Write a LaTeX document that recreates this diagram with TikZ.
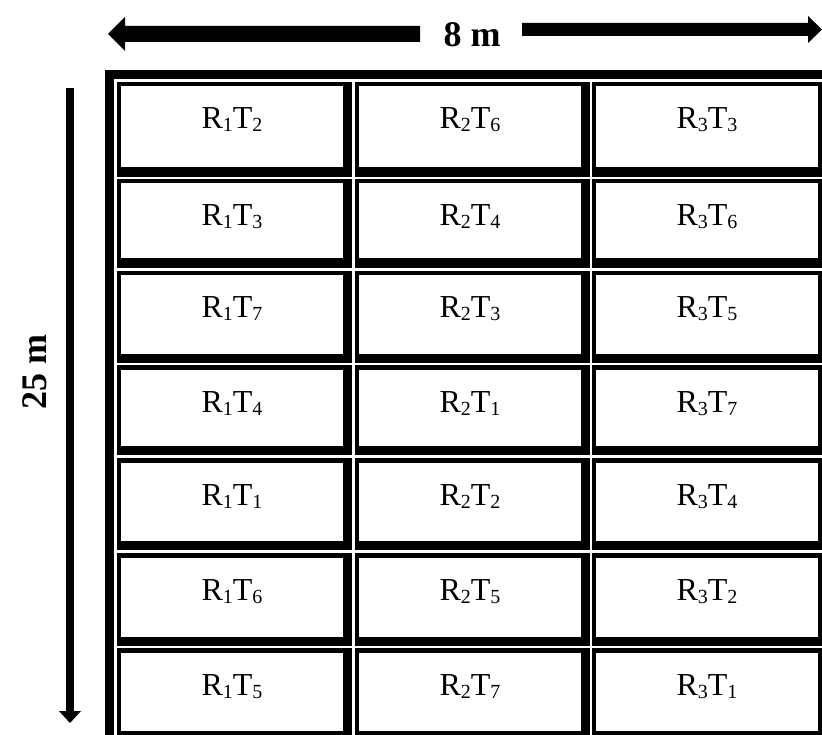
\documentclass[tikz,border=0pt]{standalone}
\usepackage{fontspec}
\setmainfont{Liberation Serif}
% treatment label: R_i T_j with lowered small digits
\newcommand\lowsub[1]{\raisebox{-3pt}{\fontsize{20}{20}\selectfont #1}}
\newcommand\lbl[2]{R\lowsub{#1}T\lowsub{#2}}
\begin{document}
\begin{tikzpicture}[x=1pt,y=-1pt,
  cellfont/.style={font=\fontsize{32}{32}\selectfont, inner sep=0pt, anchor=base},
  dimfont/.style={font=\fontsize{36}{36}\selectfont\bfseries, inner sep=0pt}]
\useasboundingbox (0,0) rectangle (822,735);
\begin{scope}
\clip (0,0) rectangle (822,735);
% outer frame (left and top bands)
\fill (105,70) rectangle (840,79);
\fill (105,70) rectangle (114,760);
% plot boxes: thin top/left edge, heavy right/bottom edge
\foreach \ya/\yb in {82/177, 179/268, 271/363, 365/455, 458/550, 553/646, 648/740}
  \foreach \x in {117,355,592} {
    \fill (\x,\ya) rectangle (\x+235,\yb);
    \fill[white] (\x+4,\ya+4.5) rectangle (\x+226,\yb-9.5);
  }
% plot labels
\foreach \ya/\a/\b/\c [count=\i] in {82/2/6/3, 179/3/4/6, 271/7/3/5, 365/4/1/7, 458/1/2/4, 553/6/5/2, 648/5/7/1} {
  \node[cellfont] (p\i-1) at (232,\ya+47) {\lbl{1}{\a}};
  \node[cellfont] (p\i-2) at (470,\ya+47) {\lbl{2}{\b}};
  \node[cellfont] (p\i-3) at (707,\ya+47) {\lbl{3}{\c}};
}
\end{scope}
% width dimension
\node[dimfont] (width) at (472,35) {8 m};
\fill (108,34) -- (125,17) -- (125,26) -- (420,26) -- (420,42) -- (125,42) -- (125,51) -- cycle;
\fill (522,23) -- (808,23) -- (808,16) -- (822,29.5) -- (808,43) -- (808,36) -- (522,36) -- cycle;
% length dimension
\node[dimfont, rotate=90] (length) at (35,372) {25 m};
\fill (66,88) rectangle (74,712);
\fill (59,711) -- (81,711) -- (70,723) -- cycle;
\end{tikzpicture}
\end{document}
